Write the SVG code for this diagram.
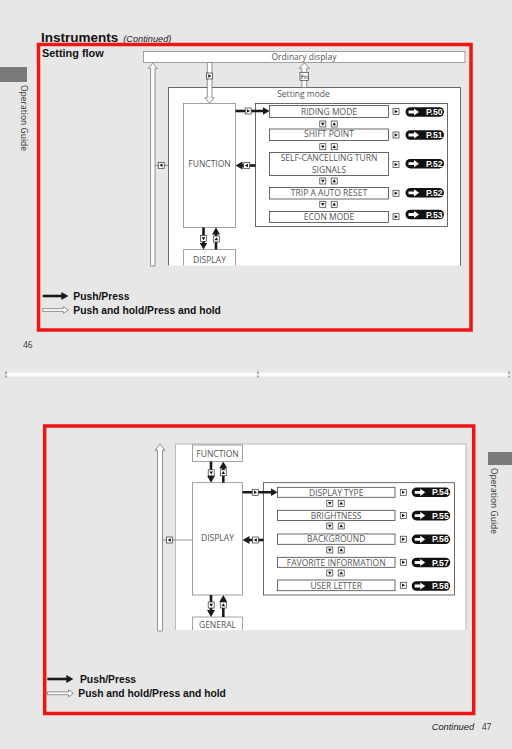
<svg xmlns="http://www.w3.org/2000/svg" xmlns:xlink="http://www.w3.org/1999/xlink" width="512" height="749" viewBox="0 0 512 749">
<style>
.lbl{font-family:"Open Sans","Liberation Sans",sans-serif;font-size:8.5px;fill:#555;text-anchor:middle}
.box{fill:#fff;stroke:#8a8a8a;stroke-width:0.8}
.ibox{fill:#fff;stroke:#444;stroke-width:0.8}
.wa{fill:#fff;stroke:#777;stroke-width:0.8}
.ba{stroke:#1a1a1a;stroke-width:2.6;fill:none}
.thin{stroke:#777;stroke-width:0.8;fill:none}
.pt{font-family:"Liberation Sans",sans-serif;font-weight:bold;font-size:8.6px;fill:#fff;text-anchor:end}
.hd{font-family:"Liberation Sans",sans-serif;font-weight:bold;fill:#111}
.it{font-family:"Liberation Sans",sans-serif;font-style:italic;fill:#222}
.side{font-family:"Open Sans","Liberation Sans",sans-serif;font-size:8.5px;fill:#333}
.fn{font-family:"DejaVu Sans",sans-serif;font-size:6px;fill:#111;text-anchor:middle}
.red{fill:none;stroke:#f01414;stroke-width:3.5}
</style>
<defs>
<marker id="ah" viewBox="0 0 7 8" refX="4" refY="4" markerWidth="7" markerHeight="8" markerUnits="userSpaceOnUse" orient="auto"><path d="M0,0 L7,4 L0,8Z" fill="#1a1a1a"/></marker>
<g id="ir"><rect x="-3" y="-3" width="6" height="6" fill="#fff" stroke="#333" stroke-width="0.7"/><path d="M-1.3,-1.8 L1.8,0 L-1.3,1.8Z" fill="#111"/></g>
<g id="il"><rect x="-3" y="-3" width="6" height="6" fill="#fff" stroke="#333" stroke-width="0.7"/><path d="M1.3,-1.8 L-1.8,0 L1.3,1.8Z" fill="#111"/></g>
<g id="id"><rect x="-3" y="-3" width="6" height="6" fill="#fff" stroke="#333" stroke-width="0.7"/><path d="M-1.8,-1.3 L1.8,-1.3 L0,1.8Z" fill="#111"/></g>
<g id="iu"><rect x="-3" y="-3" width="6" height="6" fill="#fff" stroke="#333" stroke-width="0.7"/><path d="M-1.8,1.3 L1.8,1.3 L0,-1.8Z" fill="#111"/></g>
<g id="du"><use xlink:href="#id" x="-5.7"/><use xlink:href="#iu" x="5.7"/></g>
<g id="pill"><rect x="0" y="-4.8" width="38.5" height="9.6" rx="4.8" fill="#111"/><path d="M3,-1.4 H8.5 V-3.6 L13.5,0 L8.5,3.6 V1.4 H3Z" fill="#fff"/></g>
</defs>

<rect x="0" y="0" width="512" height="749" fill="#e7e7e7"/>

<!-- Page 46 -->
<g id="page46-header">
<text class="hd" x="41" y="41.7" font-size="13.5">Instruments</text>
<text class="it" x="123.3" y="41.7" font-size="9.2">(Continued)</text>
<rect x="0" y="67" width="27" height="15" fill="#7a7a7a"/>
<text class="side" transform="translate(20.5,85) rotate(90)">Operation Guide</text>
<text class="side" x="23" y="347.5" font-size="8.3">46</text>
</g>
<rect class="red" x="38.5" y="44.5" width="432.5" height="285.5"/>
<text class="hd" x="42" y="57" font-size="10.9">Setting flow</text>

<g id="setting-mode">
<path d="M168.5,265.5 V87.5 H460.5 V265.5" fill="#fff" stroke="#444" stroke-width="0.8"/>
<text class="lbl" x="303.5" y="96.5">Setting mode</text>
</g>
<g id="ordinary-display">
<rect class="box" x="143.5" y="51.5" width="321.5" height="11"/>
<text class="lbl" x="304" y="60">Ordinary display</text>
</g>
<g id="function">
<rect class="box" x="183.5" y="103.5" width="52" height="124"/>
<text class="lbl" x="209.5" y="166.5">FUNCTION</text>
</g>
<g id="display-top">
<path class="box" d="M183.5,265.5 V249.5 H235.5 V265.5"/>
<text class="lbl" x="209.5" y="262.5">DISPLAY</text>
</g>
<g id="items-top">
<rect class="ibox" x="255.5" y="103.5" width="192" height="123"/>
</g>
<g id="riding-mode"><rect class="ibox" x="269.5" y="105.5" width="119" height="12"/><text class="lbl" x="329" y="114.8">RIDING MODE</text><use xlink:href="#ir" x="396" y="111.5"/><use xlink:href="#pill" x="405.5" y="112"/><text class="pt" x="442.5" y="115.1">P.50</text></g>
<g id="shift-point"><rect class="ibox" x="269.5" y="129" width="119" height="11.5"/><text class="lbl" x="329" y="137.3">SHIFT POINT</text><use xlink:href="#ir" x="396" y="135"/><use xlink:href="#pill" x="405.5" y="135"/><text class="pt" x="442.5" y="138.1">P.51</text></g>
<g id="self-cancelling"><rect class="ibox" x="269.5" y="152.5" width="119" height="23"/><text class="lbl" x="329" y="160.5">SELF-CANCELLING TURN</text><text class="lbl" x="329" y="173">SIGNALS</text><use xlink:href="#ir" x="396" y="164.5"/><use xlink:href="#pill" x="405.5" y="163.7"/><text class="pt" x="442.5" y="166.8">P.52</text></g>
<g id="trip-a"><rect class="ibox" x="269.5" y="187.5" width="119" height="11.5"/><text class="lbl" x="329" y="196">TRIP A AUTO RESET</text><use xlink:href="#ir" x="396" y="193.3"/><use xlink:href="#pill" x="405.5" y="192.8"/><text class="pt" x="442.5" y="195.9">P.52</text></g>
<g id="econ-mode"><rect class="ibox" x="269.5" y="211.5" width="119" height="11"/><text class="lbl" x="329" y="219.5">ECON MODE</text><use xlink:href="#ir" x="396" y="216.7"/><use xlink:href="#pill" x="405.5" y="214.5"/><text class="pt" x="442.5" y="217.6">P.53</text></g>

<g id="connectors-top">
<polygon class="wa" points="150.6,266 150.6,68.3 148.3,68.3 152.8,63.3 157.3,68.3 155,68.3 155,266"/>
<polygon class="wa" points="207.3,62.5 207.3,97.7 205,97.7 209.6,103.3 214.2,97.7 212,97.7 212,62.5"/>
<use xlink:href="#ir" x="209.6" y="76"/>
<polygon class="wa" points="301.9,87.5 301.9,68.3 299.2,68.3 304.3,63 309.4,68.3 306.7,68.3 306.7,87.5"/>
<rect x="300" y="72.3" width="8.6" height="8" fill="#fff" stroke="#333" stroke-width="0.7"/>
<text class="fn" x="304.3" y="78.6">Fn</text>
<line class="thin" x1="155" y1="165.3" x2="168.5" y2="165.3"/>
<use xlink:href="#il" x="161.2" y="165.3"/>
<line class="ba" x1="235.5" y1="111" x2="266.5" y2="111" marker-end="url(#ah)"/>
<use xlink:href="#ir" x="248.2" y="111"/>
<line class="ba" x1="255.5" y1="165.5" x2="238.5" y2="165.5" marker-end="url(#ah)"/>
<use xlink:href="#il" x="246.7" y="165.5"/>
<use xlink:href="#du" x="328.5" y="124"/>
<use xlink:href="#du" x="328.5" y="146.7"/>
<use xlink:href="#du" x="328.5" y="181"/>
<use xlink:href="#du" x="328.5" y="204.3"/>
<line class="ba" x1="203.5" y1="227.5" x2="203.5" y2="246.5" marker-end="url(#ah)"/>
<line class="ba" x1="216" y1="249.5" x2="216" y2="230.5" marker-end="url(#ah)"/>
<use xlink:href="#id" x="203.5" y="238.5"/>
<use xlink:href="#iu" x="216.3" y="239"/>
</g>

<g id="legend-top">
<line class="ba" x1="42.7" y1="296" x2="65.3" y2="296" marker-end="url(#ah)"/>
<text class="hd" x="73.3" y="300" font-size="10.3">Push/Press</text>
<polygon class="wa" points="42.7,308.6 63.3,308.6 63.3,306.6 68.3,310 63.3,313.4 63.3,311.4 42.7,311.4"/>
<text class="hd" x="73.3" y="313.7" font-size="10.3">Push and hold/Press and hold</text>
</g>

<!-- separator -->
<g id="separator">
<rect x="6" y="372.5" width="504" height="4" fill="#fbfbfb"/>
<path d="M6,371.5 V374 M258,371.5 V374 M509,371.5 V374 M6,375.5 V377.5 M258,375.5 V377.5 M509,375.5 V377.5" stroke="#333" stroke-width="0.8"/>
</g>

<!-- Page 47 -->
<g id="page47-header">
<rect x="488" y="452" width="24" height="13" fill="#7a7a7a"/>
<text class="side" transform="translate(490.5,468) rotate(90)">Operation Guide</text>
<text class="it" x="431.7" y="729.5" font-size="9.3">Continued</text>
<text class="side" x="481.7" y="729.5" font-size="9.3" fill="#222">47</text>
</g>
<rect class="red" x="44.7" y="426" width="429" height="287.5"/>

<g id="outer-bottom">
<path d="M175.5,630 V444 H466 V630" fill="#fff" stroke="#aaa" stroke-width="0.8"/>
</g>
<g id="function-bottom">
<rect class="box" x="192.5" y="445" width="50" height="16.5"/>
<text class="lbl" x="217.5" y="457">FUNCTION</text>
</g>
<g id="display">
<rect class="box" x="192.5" y="482.7" width="50" height="112.3"/>
<text class="lbl" x="217.5" y="541.3">DISPLAY</text>
</g>
<g id="general">
<path class="box" d="M192.5,630 V617 H242.5 V630"/>
<text class="lbl" x="217.5" y="627.5">GENERAL</text>
</g>
<g id="items-bottom">
<rect class="ibox" x="263.5" y="482.7" width="191" height="112.3"/>
</g>
<g id="display-type"><rect class="ibox" x="277.5" y="487.3" width="117.5" height="10"/><text class="lbl" x="336.2" y="495.5">DISPLAY TYPE</text><use xlink:href="#ir" x="403.3" y="492.3"/><use xlink:href="#pill" x="411.7" y="492.3"/><text class="pt" x="448.7" y="495.4">P.54</text></g>
<g id="brightness"><rect class="ibox" x="277.5" y="510.3" width="117.5" height="10.2"/><text class="lbl" x="336.2" y="518.7">BRIGHTNESS</text><use xlink:href="#ir" x="403.3" y="515.4"/><use xlink:href="#pill" x="411.7" y="515.6"/><text class="pt" x="448.7" y="518.7">P.55</text></g>
<g id="background"><rect class="ibox" x="277.5" y="534" width="117.5" height="10.3"/><text class="lbl" x="336.2" y="542.4">BACKGROUND</text><use xlink:href="#ir" x="403.3" y="539.2"/><use xlink:href="#pill" x="411.7" y="539.3"/><text class="pt" x="448.7" y="542.4">P.56</text></g>
<g id="favorite-information"><rect class="ibox" x="277.5" y="557.3" width="117.5" height="10"/><text class="lbl" x="336.2" y="565.5">FAVORITE INFORMATION</text><use xlink:href="#ir" x="403.3" y="562.3"/><use xlink:href="#pill" x="411.7" y="562.5"/><text class="pt" x="448.7" y="565.6">P.57</text></g>
<g id="user-letter"><rect class="ibox" x="277.5" y="580" width="117.5" height="10.7"/><text class="lbl" x="336.2" y="588.5">USER LETTER</text><use xlink:href="#ir" x="403.3" y="585.3"/><use xlink:href="#pill" x="411.7" y="586"/><text class="pt" x="448.7" y="589.1">P.58</text></g>

<g id="connectors-bottom">
<polygon class="wa" points="157.5,631 157.5,450 155,450 160,444 165,450 162.5,450 162.5,631"/>
<line class="thin" x1="162.5" y1="540" x2="192.5" y2="540"/>
<use xlink:href="#il" x="169.5" y="540"/>
<line class="ba" x1="211" y1="461.5" x2="211" y2="479.7" marker-end="url(#ah)"/>
<line class="ba" x1="223.3" y1="482.7" x2="223.3" y2="464.5" marker-end="url(#ah)"/>
<use xlink:href="#id" x="211.2" y="472.8"/>
<use xlink:href="#iu" x="223.3" y="472.8"/>
<line class="ba" x1="242.5" y1="492.3" x2="274.5" y2="492.3" marker-end="url(#ah)"/>
<use xlink:href="#ir" x="255.2" y="492.3"/>
<line class="ba" x1="263.5" y1="540" x2="245.5" y2="540" marker-end="url(#ah)"/>
<use xlink:href="#il" x="255.5" y="540"/>
<use xlink:href="#du" x="335.5" y="503.3"/>
<use xlink:href="#du" x="335.5" y="526"/>
<use xlink:href="#du" x="335.5" y="550"/>
<use xlink:href="#du" x="335.5" y="573"/>
<line class="ba" x1="211" y1="595" x2="211" y2="614" marker-end="url(#ah)"/>
<line class="ba" x1="223.3" y1="617" x2="223.3" y2="598" marker-end="url(#ah)"/>
<use xlink:href="#id" x="211.2" y="605"/>
<use xlink:href="#iu" x="223.3" y="605"/>
</g>

<g id="legend-bottom">
<line class="ba" x1="47.3" y1="679" x2="70.3" y2="679" marker-end="url(#ah)"/>
<text class="hd" x="80" y="682.6" font-size="10.3">Push/Press</text>
<polygon class="wa" points="47.5,691.9 68.5,691.9 68.5,689.8 73.5,693.3 68.5,696.8 68.5,694.7 47.5,694.7"/>
<text class="hd" x="78.3" y="697" font-size="10.3">Push and hold/Press and hold</text>
</g>
</svg>
